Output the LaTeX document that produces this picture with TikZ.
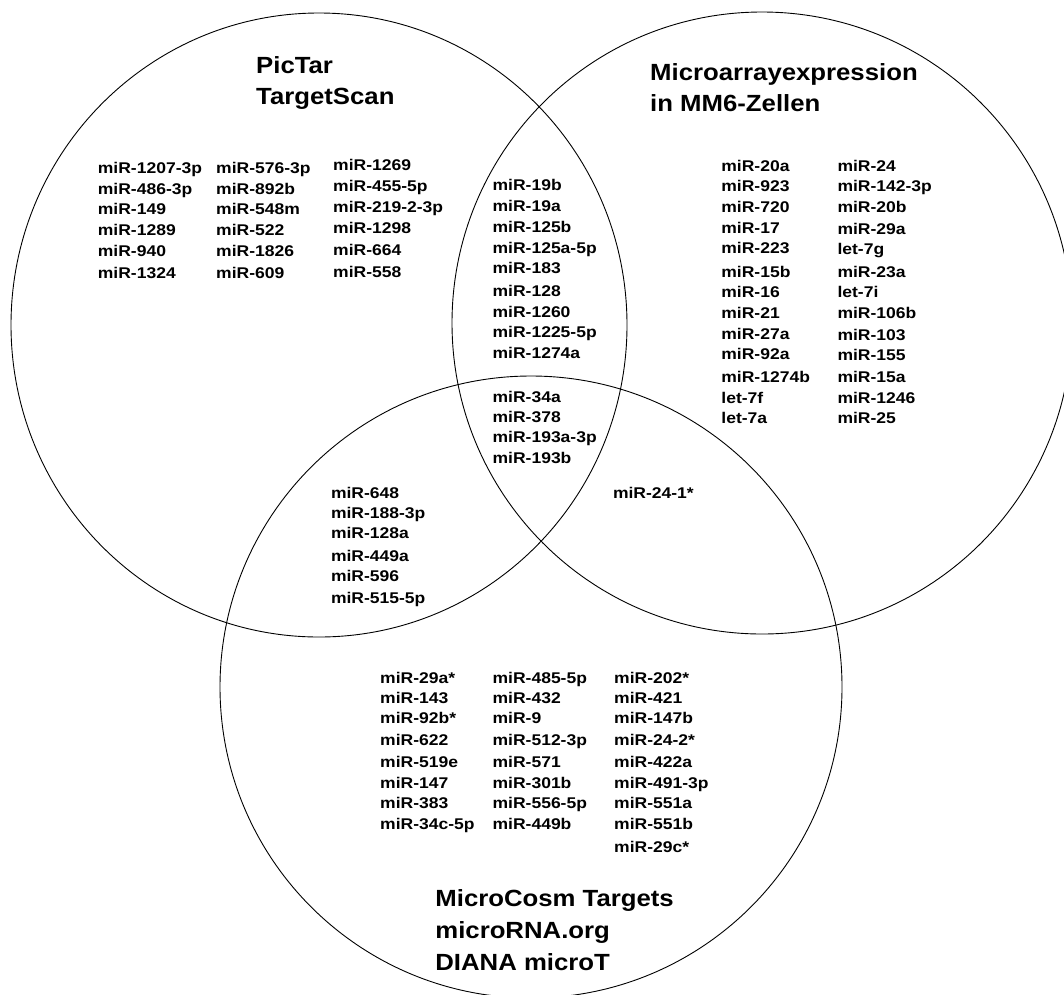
\documentclass[tikz,border=0pt]{standalone}
\usepackage{fontspec}
\newfontfamily\lbl{Liberation Sans}[FakeStretch=1.13]
\newfontfamily\ttlfont{Liberation Sans}[FakeStretch=1.1]
\begin{document}
\begin{tikzpicture}[x=1pt,y=-1pt,
  mir/.style={anchor=base west, inner sep=0pt, font=\lbl\bfseries\fontsize{15.5}{18}\selectfont},
  ttl/.style={anchor=base west, inner sep=0pt, font=\ttlfont\bfseries\fontsize{23.4}{30}\selectfont},
  set/.style={draw=black, line width=0.9pt}]
\useasboundingbox (0,0) rectangle (1064,994);
\clip (0,0) rectangle (1064,994);
\fill[white] (0,0) rectangle (1064,994);
% circles
\draw[set] (319,325) ellipse [x radius=308pt, y radius=312pt];
\draw[set] (762,323) ellipse [x radius=310pt, y radius=311pt];
\draw[set] (531,687) ellipse [x radius=311pt, y radius=311pt];
% titles
\node[ttl] (t1a) at (256,73.3) {PicTar};
\node[ttl] (t1b) at (256,104) {TargetScan};
\node[ttl] (t2a) at (650,80) {Microarrayexpression};
\node[ttl] (t2b) at (650,111.6) {in MM6-Zellen};
\node[ttl] (t3a) at (435.2,906.6) {MicroCosm Targets};
\node[ttl] (t3b) at (435.2,938.3) {microRNA.org};
\node[ttl] (t3c) at (435.2,970) {DIANA microT};
% left circle only
\foreach \y/\t [count=\i] in {173.8/miR-1207-3p,194.2/miR-486-3p,214.5/miR-149,235.5/miR-1289,256.2/miR-940,278.8/miR-1324}
  \node[mir] (la\i) at (97.7,\y) {\t};
\foreach \y/\t [count=\i] in {173.8/miR-576-3p,194.2/miR-892b,214.5/miR-548m,235.5/miR-522,256.2/miR-1826,278.8/miR-609}
  \node[mir] (lb\i) at (216,\y) {\t};
\foreach \y/\t [count=\i] in {170.5/miR-1269,191.2/miR-455-5p,212.2/miR-219-2-3p,233.2/miR-1298,255.5/miR-664,277.2/miR-558}
  \node[mir] (lc\i) at (333,\y) {\t};
% left & right
\foreach \y/\t [count=\i] in {190.5/miR-19b,211.2/miR-19a,232.2/miR-125b,253.8/miR-125a-5p,273.8/miR-183,296.2/miR-128,317.2/miR-1260,337.5/miR-1225-5p,358.8/miR-1274a}
  \node[mir] (lr\i) at (492.4,\y) {\t};
% all three
\foreach \y/\t [count=\i] in {402.2/miR-34a,422.2/miR-378,442.2/miR-193a-3p,463.8/miR-193b}
  \node[mir] (lrb\i) at (492.4,\y) {\t};
% right only
\foreach \y/\t [count=\i] in {171.2/miR-20a,191.2/miR-923,212.2/miR-720,233.8/miR-17,253.8/miR-223,277.2/miR-15b,297.8/miR-16,318/miR-21,339.5/miR-27a,359.8/miR-92a,382.8/miR-1274b,403.2/let-7f,423.2/let-7a}
  \node[mir] (ra\i) at (721.2,\y) {\t};
\foreach \y/\t [count=\i] in {171.2/miR-24,191.2/miR-142-3p,212.2/miR-20b,234.8/miR-29a,254.8/let-7g,277.2/miR-23a,297.8/let-7i,318/miR-106b,340.2/miR-103,360.5/miR-155,382.8/miR-15a,403.2/miR-1246,423.2/miR-25}
  \node[mir] (rb\i) at (837.3,\y) {\t};
% left & bottom
\foreach \y/\t [count=\i] in {498.2/miR-648,518.8/miR-188-3p,538.8/miR-128a,561.5/miR-449a,581.5/miR-596,603.2/miR-515-5p}
  \node[mir] (lb\i) at (330.8,\y) {\t};
% right & bottom
\node[mir] (rbt1) at (612.8,498.8) {miR-24-1*};
% bottom only
\foreach \y/\t [count=\i] in {683.8/miR-29a*,703.2/miR-143,723.5/miR-92b*,745.2/miR-622,767.2/miR-519e,788.2/miR-147,808.8/miR-383,829.5/miR-34c-5p}
  \node[mir] (ba\i) at (380,\y) {\t};
\foreach \y/\t [count=\i] in {683.8/miR-485-5p,703.2/miR-432,723.5/miR-9,745.2/miR-512-3p,767.2/miR-571,788.2/miR-301b,808.8/miR-556-5p,829.5/miR-449b}
  \node[mir] (bb\i) at (492.4,\y) {\t};
\foreach \y/\t [count=\i] in {683.8/miR-202*,703.2/miR-421,723.5/miR-147b,745.2/miR-24-2*,767.2/miR-422a,788.2/miR-491-3p,808.8/miR-551a,829.5/miR-551b,852.2/miR-29c*}
  \node[mir] (bc\i) at (614,\y) {\t};
\end{tikzpicture}
\end{document}
